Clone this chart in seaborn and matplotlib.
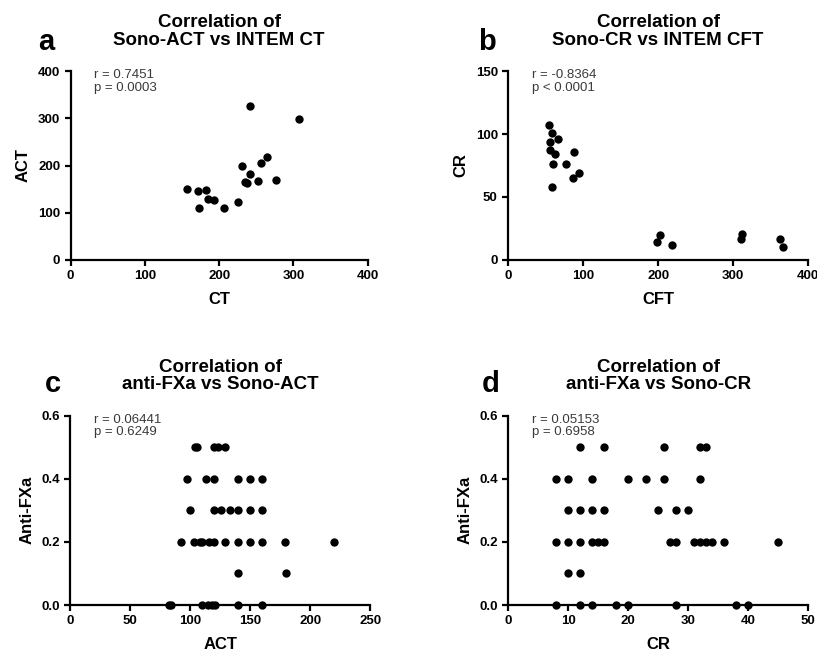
import numpy as np
import pandas as pd
import matplotlib
matplotlib.use("Agg")
import matplotlib.pyplot as plt
import seaborn as sns

# panel a: Sono-ACT vs INTEM CT
a_ct = [157, 171, 182, 173, 185, 193, 206, 226, 231, 241, 241, 235, 238, 252, 256, 265, 276, 308]
a_act = [150, 146, 149, 109, 129, 126, 109, 123, 200, 325, 183, 166, 164, 168, 205, 217, 169, 299]

# panel b: Sono-CR vs INTEM CFT
b_cft = [55, 58, 56, 66, 56, 62, 60, 77, 88, 94, 86, 58, 199, 203, 218, 311, 312, 363, 367]
b_cr = [107, 101, 94, 96, 87, 84, 76, 76, 86, 69, 65, 58, 14, 20, 12, 17, 21, 17, 10]

# panel c: anti-FXa vs Sono-ACT
c_act = [104, 106, 120, 123, 129,
         97, 113, 120, 140, 150, 160,
         100, 120, 126, 133, 140, 150, 160,
         92, 103, 108, 110, 116, 120, 129, 140, 150, 160, 179, 220,
         140, 180,
         82, 84, 110, 115, 118, 121, 140, 160]
c_fxa = [0.5] * 5 + [0.4] * 6 + [0.3] * 7 + [0.2] * 12 + [0.1] * 2 + [0.0] * 8

# panel d: anti-FXa vs Sono-CR
d_cr = [12, 16, 26, 32, 33,
        8, 10, 14, 20, 23, 26, 32,
        10, 12, 14, 16, 25, 28, 30,
        8, 10, 12, 14, 15, 16, 27, 28, 31, 32, 33, 34, 36, 45,
        10, 12,
        8, 12, 14, 18, 20, 28, 38, 40]
d_fxa = [0.5] * 5 + [0.4] * 7 + [0.3] * 7 + [0.2] * 14 + [0.1] * 2 + [0.0] * 8

sns.set_style("ticks")
plt.rcParams['font.family'] = ['Liberation Sans', 'DejaVu Sans']
plt.rcParams.update({'text.color': 'black', 'axes.labelcolor': 'black',
                     'xtick.color': 'black', 'ytick.color': 'black',
                     'axes.edgecolor': 'black'})

fig = plt.figure(figsize=(8.17, 6.56), dpi=100)

panels = [
    dict(rect=[0.0865, 0.6037, 0.3635, 0.288], x=a_ct, y=a_act, xl="CT", yl="ACT",
         xlim=(0, 400), ylim=(0, 400), xt=[0, 100, 200, 300, 400], yt=[0, 100, 200, 300, 400],
         title="Correlation of\nSono-ACT vs INTEM CT", letter="a", lpos=(-0.11, 1.11),
         stats="r = 0.7451\np = 0.0003"),
    dict(rect=[0.622, 0.6037, 0.367, 0.288], x=b_cft, y=b_cr, xl="CFT", yl="CR",
         xlim=(0, 400), ylim=(0, 150), xt=[0, 100, 200, 300, 400], yt=[0, 50, 100, 150],
         title="Correlation of\nSono-CR vs INTEM CFT", letter="b", lpos=(-0.10, 1.11),
         stats="r = -0.8364\np < 0.0001"),
    dict(rect=[0.086, 0.0777, 0.367, 0.2886], x=c_act, y=c_fxa, xl="ACT", yl="Anti-FXa",
         xlim=(0, 250), ylim=(0, 0.6), xt=[0, 50, 100, 150, 200, 250], yt=[0.0, 0.2, 0.4, 0.6],
         title="Correlation of\nanti-FXa vs Sono-ACT", letter="c", lpos=(-0.085, 1.125),
         stats="r = 0.06441\np = 0.6249"),
    dict(rect=[0.622, 0.0777, 0.367, 0.2886], x=d_cr, y=d_fxa, xl="CR", yl="Anti-FXa",
         xlim=(0, 50), ylim=(0, 0.6), xt=[0, 10, 20, 30, 40, 50], yt=[0.0, 0.2, 0.4, 0.6],
         title="Correlation of\nanti-FXa vs Sono-CR", letter="d", lpos=(-0.088, 1.125),
         stats="r = 0.05153\np = 0.6958"),
]

for p in panels:
    ax = fig.add_axes(p['rect'])
    df = pd.DataFrame({'x': p['x'], 'y': p['y']})
    sns.scatterplot(data=df, x='x', y='y', color='black', s=36, edgecolor='black',
                    linewidth=0, ax=ax, clip_on=False, zorder=5)
    ax.set_xlim(*p['xlim'])
    ax.set_ylim(*p['ylim'])
    ax.set_xticks(p['xt'])
    ax.set_yticks(p['yt'])
    if p['yl'] == "Anti-FXa":
        ax.set_yticklabels(["%.1f" % v for v in p['yt']])
    sns.despine(ax=ax)
    for s in ['left', 'bottom']:
        ax.spines[s].set_linewidth(1.6)
    ax.tick_params(width=1.6, length=4, labelsize=9.5)
    for lab in ax.get_xticklabels() + ax.get_yticklabels():
        lab.set_fontweight('bold')
    ax.set_xlabel(p['xl'], fontsize=12, fontweight='bold', labelpad=7)
    ax.set_ylabel(p['yl'], fontsize=12, fontweight='bold', labelpad=5)
    ax.set_title(p['title'], fontsize=13.5, fontweight='bold', pad=19, linespacing=1.05)
    ax.text(0.08, 1.01, p['stats'], transform=ax.transAxes, ha='left', va='top',
            fontsize=9.5, color='#3a3a3a', linespacing=1.05)
    ax.text(p['lpos'][0], p['lpos'][1], p['letter'], transform=ax.transAxes,
            ha='left', va='baseline', fontsize=21, fontweight='bold')

fig.savefig("out.png", dpi=100)
